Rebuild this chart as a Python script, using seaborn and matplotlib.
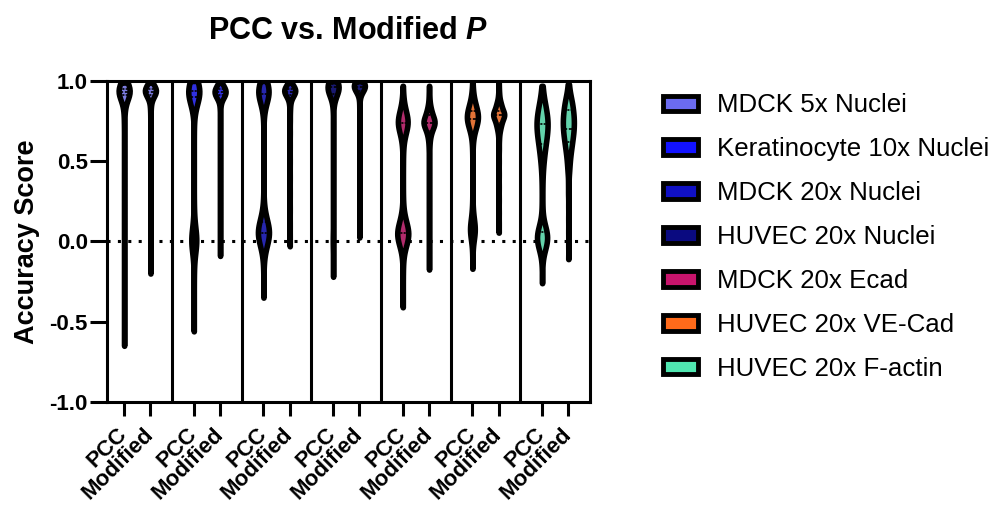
import matplotlib
matplotlib.use("Agg")
import matplotlib.pyplot as plt
from matplotlib.patches import Patch
import numpy as np
import pandas as pd
import seaborn as sns

# groups / colours
groups = ["MDCK 5x Nuclei", "Keratinocyte 10x Nuclei", "MDCK 20x Nuclei",
          "HUVEC 20x Nuclei", "MDCK 20x Ecad", "HUVEC 20x VE-Cad",
          "HUVEC 20x F-actin"]
colors = ["#6b6bf0", "#1212ff", "#1010c4", "#0a0a80", "#c8146c", "#ff6a1a", "#50e6b0"]
methods = ["PCC", "Modified"]

# accuracy scores, as value -> count tables
mdck5_pcc_vals = [0.99, 0.97, 0.95, 0.93, 0.91, 0.89, 0.86, 0.82, 0.78, 0.72, 0.65, 0.58, 0.5, 0.42,
                  0.35, 0.3, 0.25, 0.18, 0.1, 0.05, 0.0, -0.08, -0.15, -0.22, -0.3, -0.38, -0.45,
                  -0.52, -0.58, -0.65]
mdck5_pcc_n = [10, 30, 55, 55, 30, 14, 8, 5, 4, 3, 2, 2, 1, 1, 1, 2, 1, 1, 2, 1, 1, 1, 1, 1, 1, 1,
               1, 1, 1, 1]
mdck5_mod_vals = [0.99, 0.97, 0.95, 0.93, 0.91, 0.89, 0.86, 0.82, 0.76, 0.68, 0.6, 0.5, 0.4, 0.3,
                  0.2, 0.1, 0.0, -0.1, -0.2]
mdck5_mod_n = [10, 30, 55, 55, 30, 14, 8, 5, 3, 2, 2, 1, 1, 1, 1, 1, 1, 1, 1]

kera_pcc_vals = [1.0, 0.98, 0.96, 0.94, 0.92, 0.9, 0.88, 0.85, 0.8, 0.7, 0.6, 0.5, 0.4, 0.3, 0.2,
                 0.12, 0.06, 0.02, 0.0, -0.02, -0.06, -0.12, -0.2, -0.3, -0.4, -0.5, -0.56]
kera_pcc_n = [8, 25, 40, 45, 40, 30, 18, 8, 4, 2, 1, 1, 1, 1, 3, 7, 16, 24, 26, 18, 8, 4, 2, 1, 1,
              1, 1]
kera_mod_vals = [0.99, 0.97, 0.95, 0.93, 0.91, 0.89, 0.86, 0.82, 0.76, 0.68, 0.6, 0.5, 0.4, 0.3,
                 0.2, 0.1, 0.0, -0.09]
kera_mod_n = [8, 25, 45, 50, 40, 20, 8, 4, 3, 2, 1, 1, 1, 1, 1, 1, 1, 1]

mdck20_pcc_vals = [1.0, 0.98, 0.96, 0.94, 0.92, 0.9, 0.88, 0.85, 0.8, 0.7, 0.6, 0.5, 0.4, 0.3,
                   0.22, 0.16, 0.12, 0.08, 0.05, 0.02, -0.02, -0.06, -0.12, -0.2, -0.28, -0.35]
mdck20_pcc_n = [8, 25, 40, 45, 40, 30, 18, 8, 4, 2, 1, 1, 1, 2, 6, 18, 40, 55, 60, 52, 30, 12, 5,
                2, 1, 1]
mdck20_mod_vals = [0.99, 0.97, 0.95, 0.93, 0.91, 0.89, 0.86, 0.82, 0.76, 0.68, 0.6, 0.5, 0.4, 0.3,
                   0.2, 0.1, 0.03, -0.03]
mdck20_mod_n = [10, 30, 55, 55, 30, 14, 8, 5, 3, 2, 1, 1, 1, 1, 1, 1, 1, 1]

huvec_nuc_pcc_vals = [1.0, 0.98, 0.96, 0.94, 0.92, 0.9, 0.87, 0.83, 0.78, 0.7, 0.6, 0.5, 0.4, 0.3,
                      0.2, 0.1, 0.04, 0.0, -0.04, -0.1, -0.16, -0.22]
huvec_nuc_pcc_n = [30, 50, 55, 40, 22, 10, 5, 3, 2, 2, 1, 1, 1, 1, 1, 2, 4, 6, 3, 2, 1, 1]
huvec_nuc_mod_vals = [1.0, 0.98, 0.96, 0.94, 0.92, 0.9, 0.87, 0.83, 0.78, 0.7, 0.6, 0.5, 0.4, 0.3,
                      0.2, 0.1, 0.025]
huvec_nuc_mod_n = [35, 55, 55, 35, 15, 6, 3, 2, 2, 1, 1, 1, 1, 1, 1, 1, 1]

ecad_pcc_vals = [0.97, 0.93, 0.89, 0.85, 0.82, 0.79, 0.76, 0.74, 0.72, 0.69, 0.66, 0.62, 0.57, 0.5,
                 0.42, 0.35, 0.28, 0.22, 0.16, 0.12, 0.08, 0.05, 0.02, -0.01, -0.05, -0.1, -0.16,
                 -0.22, -0.3, -0.36, -0.41]
ecad_pcc_n = [1, 2, 3, 6, 12, 20, 26, 28, 24, 16, 9, 5, 3, 3, 2, 2, 2, 4, 10, 22, 34, 38, 34, 22,
              10, 4, 2, 1, 1, 1, 1]
ecad_mod_vals = [0.97, 0.93, 0.89, 0.85, 0.82, 0.79, 0.76, 0.74, 0.72, 0.69, 0.66, 0.62, 0.57, 0.5,
                 0.42, 0.35, 0.28, 0.2, 0.12, 0.05, -0.02, -0.1, -0.175]
ecad_mod_n = [1, 2, 3, 6, 12, 20, 26, 28, 24, 16, 9, 5, 3, 2, 1, 1, 1, 1, 1, 1, 1, 1, 1]

vecad_pcc_vals = [0.99, 0.95, 0.91, 0.87, 0.84, 0.81, 0.78, 0.76, 0.74, 0.71, 0.68, 0.64, 0.58, 0.5,
                  0.42, 0.34, 0.26, 0.18, 0.12, 0.08, 0.05, 0.02, -0.04, -0.1, -0.17]
vecad_pcc_n = [1, 2, 4, 8, 16, 24, 28, 26, 20, 12, 6, 3, 2, 1, 1, 1, 1, 5, 12, 20, 14, 6, 1, 1, 1]
vecad_mod_vals = [0.99, 0.95, 0.91, 0.87, 0.84, 0.81, 0.79, 0.77, 0.74, 0.71, 0.68, 0.64, 0.58, 0.5,
                  0.42, 0.34, 0.26, 0.18, 0.11, 0.055]
vecad_mod_n = [1, 2, 5, 12, 20, 26, 28, 26, 20, 12, 6, 3, 2, 1, 1, 1, 1, 1, 1, 1]

factin_pcc_vals = [0.97, 0.93, 0.89, 0.85, 0.81, 0.77, 0.73, 0.69, 0.65, 0.61, 0.57, 0.53, 0.49,
                   0.45, 0.4, 0.34, 0.28, 0.22, 0.16, 0.1, 0.06, 0.02, -0.02, -0.06, -0.12, -0.19,
                   -0.26]
factin_pcc_n = [2, 4, 8, 14, 20, 24, 26, 24, 20, 16, 12, 9, 6, 4, 3, 2, 2, 2, 3, 12, 24, 30, 22, 9,
                2, 1, 1]
factin_mod_vals = [0.98, 0.94, 0.9, 0.86, 0.82, 0.78, 0.74, 0.7, 0.66, 0.62, 0.58, 0.54, 0.5, 0.46,
                   0.42, 0.36, 0.3, 0.22, 0.14, 0.06, -0.02, -0.11]
factin_mod_n = [3, 6, 12, 18, 22, 25, 26, 25, 22, 18, 14, 10, 7, 5, 3, 2, 2, 1, 1, 1, 1, 1]

tables = [
    (mdck5_pcc_vals, mdck5_pcc_n, mdck5_mod_vals, mdck5_mod_n),
    (kera_pcc_vals, kera_pcc_n, kera_mod_vals, kera_mod_n),
    (mdck20_pcc_vals, mdck20_pcc_n, mdck20_mod_vals, mdck20_mod_n),
    (huvec_nuc_pcc_vals, huvec_nuc_pcc_n, huvec_nuc_mod_vals, huvec_nuc_mod_n),
    (ecad_pcc_vals, ecad_pcc_n, ecad_mod_vals, ecad_mod_n),
    (vecad_pcc_vals, vecad_pcc_n, vecad_mod_vals, vecad_mod_n),
    (factin_pcc_vals, factin_pcc_n, factin_mod_vals, factin_mod_n),
]

GROUP_STEP = 2.65  # distance between group centres (PCC/Modified are 1 apart)

rows = []
tick_pos, tick_lab = [], []
for g, (name, (pv, pn, mv, mn)) in enumerate(zip(groups, tables)):
    centre = g * GROUP_STEP
    for k, (vals, n) in enumerate([(pv, pn), (mv, mn)]):
        pos = centre - 0.5 + k
        tick_pos.append(pos)
        tick_lab.append(methods[k])
        for v in np.repeat(vals, n):
            rows.append({"group": name, "method": methods[k], "pos": pos, "score": v})
df = pd.DataFrame(rows)

sns.set_theme(style="ticks")
plt.rcParams["font.family"] = ["Liberation Sans", "DejaVu Sans"]
plt.rcParams["mathtext.fontset"] = "custom"
plt.rcParams["mathtext.it"] = "Liberation Sans:italic:bold"
plt.rcParams["axes.unicode_minus"] = False
for key in ["text.color", "axes.labelcolor", "xtick.color", "ytick.color", "axes.edgecolor"]:
    plt.rcParams[key] = "black"

fig = plt.figure(figsize=(9.94, 5.08), dpi=100)
ax = fig.add_axes([0.1073, 0.2087, 0.4863, 0.6319])

ax.axhline(0, color="black", lw=2.2, linestyle=(0, (1, 2.4)), zorder=0)

sns.violinplot(data=df, x="pos", y="score", hue="group", hue_order=groups,
               palette=colors, native_scale=True, dodge=False, density_norm="width",
               cut=0, bw_adjust=0.5, width=0.42, linewidth=4, linecolor="black",
               inner="quart", inner_kws=dict(linewidth=1.2), legend=False, ax=ax)

for g in range(len(groups) - 1):
    ax.axvline(g * GROUP_STEP + GROUP_STEP / 2, color="black", lw=2.2, zorder=3)

ax.set_xlim(-GROUP_STEP / 2 + 0.16, (len(groups) - 1) * GROUP_STEP + GROUP_STEP / 2)
ax.set_ylim(-1, 1)
ax.set_yticks([-1, -0.5, 0, 0.5, 1])
ax.set_yticklabels([f"{t:.1f}" for t in [-1, -0.5, 0, 0.5, 1]], fontsize=16, fontweight="bold")
ax.set_xticks(tick_pos)
ax.set_xticklabels(tick_lab, rotation=45, ha="right", va="center", rotation_mode="anchor",
                   fontsize=16, fontweight="bold")
ax.tick_params(axis="y", length=12, width=2.2, pad=1.5)
ax.tick_params(axis="x", length=10, width=2.2, pad=11)
for sp in ax.spines.values():
    sp.set_linewidth(2.2)
ax.set_xlabel("")
ax.set_ylabel("Accuracy Score", fontsize=19.5, fontweight="bold", labelpad=7)
ax.set_title("PCC vs. Modified $P$", fontsize=22, fontweight="bold", pad=30)

handles = [Patch(facecolor=c, edgecolor="black", linewidth=3.5, label=n)
           for c, n in zip(colors, groups)]
fig.legend(handles=handles, loc="upper left", bbox_to_anchor=(0.667, 0.816),
           frameon=False, fontsize=18.6, handlelength=1.36, handleheight=0.55,
           handletextpad=0.74, labelspacing=0.77, borderpad=0, borderaxespad=0)

fig.savefig("out.png", dpi=100)
